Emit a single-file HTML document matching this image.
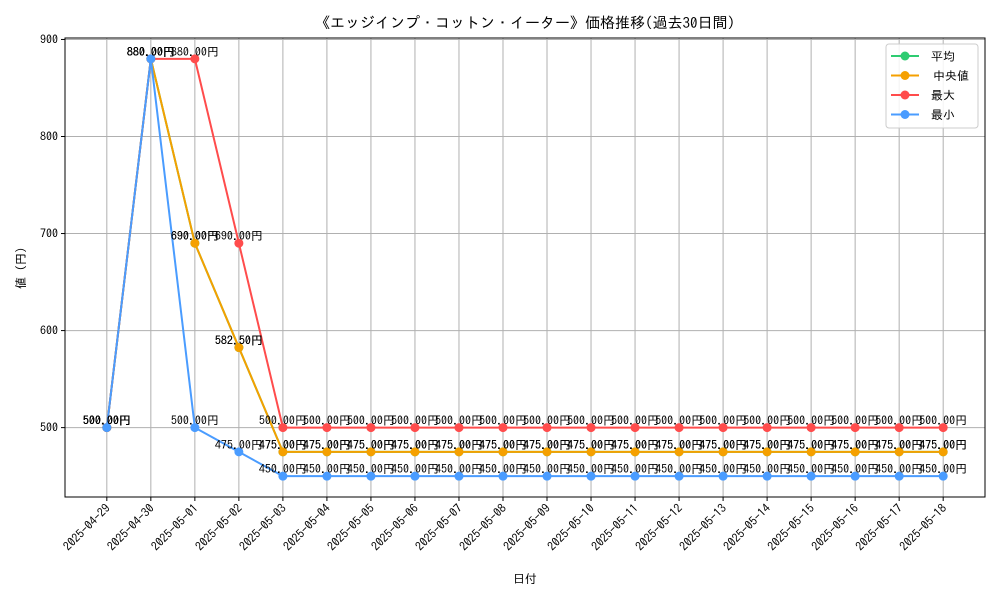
<!DOCTYPE html>
<html><head><meta charset="utf-8"><style>
body{margin:0;background:#fff}
svg text{font-family:"IPAGothic","Noto Sans CJK JP",sans-serif;fill:#000}
</style></head><body>
<svg id="c" width="1000" height="600" xmlns="http://www.w3.org/2000/svg">
<rect width="1000" height="600" fill="#fff"/>
<text x="525" y="28" font-size="15" text-anchor="middle">《エッジインプ・コットン・イーター》価格推移(過去30日間)</text>
<g id="grid"></g><g id="series"></g><g id="labels"></g><g id="axes"></g>
<text x="525" y="583" font-size="12" text-anchor="middle">日付</text>
<text transform="translate(25,268) rotate(-90)" font-size="12" text-anchor="middle">値 (円)</text>
<g>
<rect x="886" y="44" width="92" height="84" rx="3" fill="#fff" fill-opacity="0.85" stroke="#ccc"/>
<g id="legend"></g>
</g>
</svg>
<script>
const dates=["2025-04-29","2025-04-30","2025-05-01","2025-05-02","2025-05-03","2025-05-04","2025-05-05","2025-05-06","2025-05-07","2025-05-08","2025-05-09","2025-05-10","2025-05-11","2025-05-12","2025-05-13","2025-05-14","2025-05-15","2025-05-16","2025-05-17","2025-05-18"];
const meanVals=[500,880,690,582.5,475,475,475,475,475,475,475,475,475,475,475,475,475,475,475,475];
const medianVals=[500,880,690,582.5,475,475,475,475,475,475,475,475,475,475,475,475,475,475,475,475];
const maxVals=[500,880,880,690,500,500,500,500,500,500,500,500,500,500,500,500,500,500,500,500];
const minVals=[500,880,500,475,450,450,450,450,450,450,450,450,450,450,450,450,450,450,450,450];
const yTicks=[500,600,700,800,900];
const seriesNames=["平均","中央値","最大","最小"];
const colors=["#2ecc71","#f5a000","#ff4c4c","#4a9cff"];
const L=65,R=985,T=38,B=497,ymin=428.5,ymax=901.5;
const n=dates.length, step=(R-L)/(n-1+0.1*(n-1)/ (n-1)*((n-1)/1)) ;
const pad=(R-L)*0.05/1.1;
const xs=i=>L+pad+i*((R-L)-2*pad)/(n-1);
const ys=v=>B-(v-ymin)/(ymax-ymin)*(B-T);
const NS="http://www.w3.org/2000/svg";
function mk(tag,attrs,parent){const e=document.createElementNS(NS,tag);for(const k in attrs)e.setAttribute(k,attrs[k]);parent.appendChild(e);return e;}
const grid=document.getElementById('grid'),axes=document.getElementById('axes');
dates.forEach((d,i)=>{
 const x=xs(i);
 const g=mk('line',{x1:x,x2:x,y1:T,y2:B,stroke:'#b0b0b0','stroke-width':1},grid);
 
 
 mk('line',{x1:x,x2:x,y1:B,y2:B+4,stroke:'#000'},axes);
 const t=mk('text',{x:0,y:0,'font-size':12,'text-anchor':'end',transform:`translate(${x+4},${B+12}) rotate(-45)`},axes);
 t.textContent=d;
 
 
});
yTicks.forEach(v=>{
 const y=ys(v);
 const g=mk('line',{x1:L,x2:R,y1:y,y2:y,stroke:'#b0b0b0','stroke-width':1},grid);
 
 
 mk('line',{x1:L-4,x2:L,y1:y,y2:y,stroke:'#000'},axes);
 const t=mk('text',{x:L-7,y:y+4,'font-size':12,'text-anchor':'end'},axes);
 t.textContent=v;
 
 
});
const fr=mk('rect',{x:L,y:T,width:R-L,height:B-T,fill:'none',stroke:'#000','stroke-width':1},axes);


const all=[meanVals,medianVals,maxVals,minVals];
const sg=document.getElementById('series'),lg=document.getElementById('labels');
all.forEach((vals,s)=>{
 const p=mk('polyline',{points:vals.map((v,i)=>xs(i)+','+ys(v)).join(' '),fill:'none',stroke:colors[s],'stroke-width':2},sg);
 
 
 vals.forEach((v,i)=>{
  const c=mk('circle',{cx:xs(i),cy:ys(v),r:4.5,fill:colors[s]},sg);
  
  
  const t=mk('text',{x:xs(i),y:ys(v)-3,'font-size':12,'text-anchor':'middle'},lg);
  t.textContent=v.toFixed(2)+'円';
  
  
 });
});
const leg=document.getElementById('legend');
seriesNames.forEach((nm,s)=>{
 const y=56+s*19.5;
 const g=mk('g',{},leg);
 
 
 mk('line',{x1:891,x2:919,y1:y,y2:y,stroke:colors[s],'stroke-width':2},g);
 mk('circle',{cx:905,cy:y,r:4.5,fill:colors[s]},g);
 const t=mk('text',{x:s==1?933:931,y:y+4.5,'font-size':12},g);
 t.textContent=nm;
});
</script>
</body></html>
